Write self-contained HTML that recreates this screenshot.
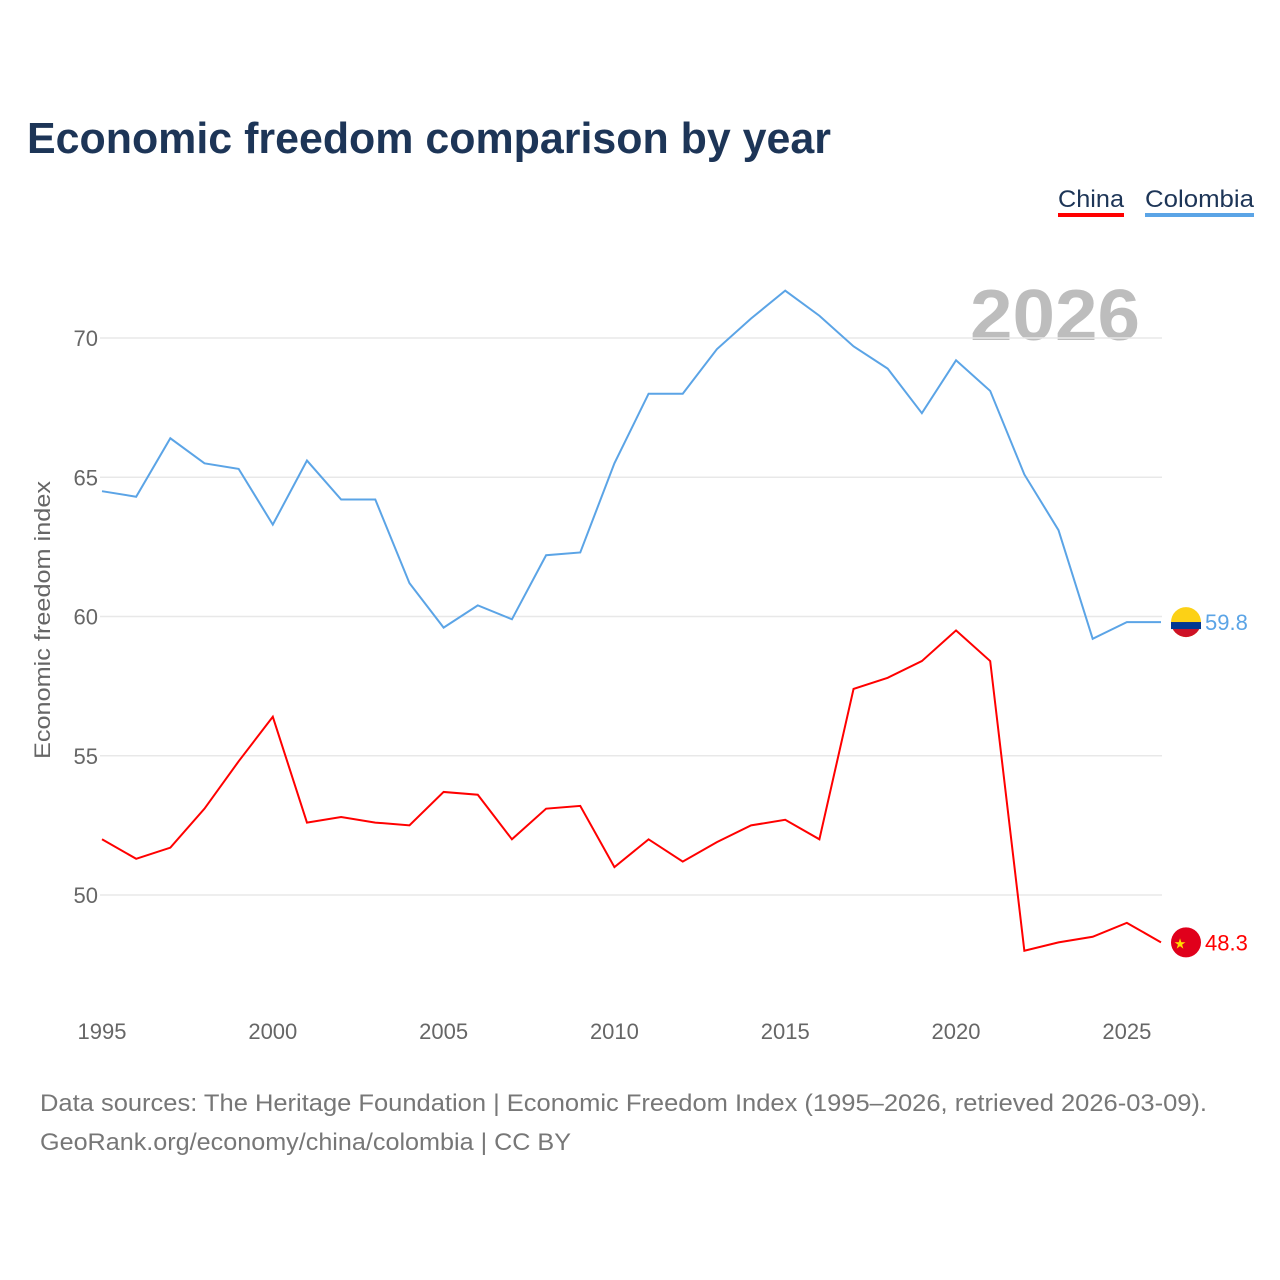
<!DOCTYPE html>
<html><head><meta charset="utf-8">
<style>
body{margin:0;background:#fff;font-family:"Liberation Sans",sans-serif;}
#wrap{position:relative;width:1280px;height:1280px;overflow:hidden;}
</style></head>
<body>
<div id="wrap">
<svg id="chart" width="1280" height="1280">
  <text x="27" y="153" font-size="44" font-weight="bold" fill="#1d3557" textLength="804" lengthAdjust="spacingAndGlyphs">Economic freedom comparison by year</text>
  <g>
    <text x="1058" y="207" font-size="24" fill="#1d3557" textLength="66" lengthAdjust="spacingAndGlyphs">China</text>
    <rect x="1058" y="213" width="66" height="4" fill="#ff0000"/>
    <text x="1145" y="207" font-size="24" fill="#1d3557" textLength="109" lengthAdjust="spacingAndGlyphs">Colombia</text>
    <rect x="1145" y="213" width="109" height="4" fill="#5ba4e6"/>
  </g>
  <text x="1140" y="340" font-size="72" font-weight="bold" fill="#bdbdbd" text-anchor="end" textLength="170" lengthAdjust="spacingAndGlyphs">2026</text>
  <text transform="translate(50,620) rotate(-90)" font-size="22" fill="#666" text-anchor="middle" textLength="278" lengthAdjust="spacingAndGlyphs">Economic freedom index</text>
  <g id="grid"></g><g id="lines"></g><g id="labels"></g>
  <text x="40" y="1111" font-size="24" fill="#777" textLength="1167" lengthAdjust="spacingAndGlyphs">Data sources: The Heritage Foundation | Economic Freedom Index (1995–2026, retrieved 2026-03-09).</text>
  <text x="40" y="1150" font-size="24" fill="#777" textLength="531" lengthAdjust="spacingAndGlyphs">GeoRank.org/economy/china/colombia | CC BY</text>
</svg>
</div>
<script>
const years=[1995,1996,1997,1998,1999,2000,2001,2002,2003,2004,2005,2006,2007,2008,2009,2010,2011,2012,2013,2014,2015,2016,2017,2018,2019,2020,2021,2022,2023,2024,2025,2026];
const colombia=[64.5,64.3,66.4,65.5,65.3,63.3,65.6,64.2,64.2,61.2,59.6,60.4,59.9,62.2,62.3,65.5,68.0,68.0,69.6,70.7,71.7,70.8,69.7,68.9,67.3,69.2,68.1,65.1,63.1,59.2,59.8,59.8];
const china=[52.0,51.3,51.7,53.1,54.8,56.4,52.6,52.8,52.6,52.5,53.7,53.6,52.0,53.1,53.2,51.0,52.0,51.2,51.9,52.5,52.7,52.0,57.4,57.8,58.4,59.5,58.4,48.0,48.3,48.5,49.0,48.3];
const yTicks=[50,55,60,65,70];
const xTicks=[1995,2000,2005,2010,2015,2020,2025];
const NS="http://www.w3.org/2000/svg";
const x=v=>102+(v-1995)*(1161-102)/31;
const y=v=>338+(70-v)*27.85;
function mk(tag,attrs,parent){const e=document.createElementNS(NS,tag);for(const k in attrs)e.setAttribute(k,attrs[k]);parent.appendChild(e);return e;}
const grid=document.getElementById('grid'),lines=document.getElementById('lines'),labels=document.getElementById('labels');
yTicks.forEach(t=>{
  const l=mk('line',{x1:100,x2:1162,y1:y(t),y2:y(t),stroke:'#e8e8e8','stroke-width':1.5},grid);
  
  
  const tx=mk('text',{x:98,y:y(t)+8,'font-size':22,fill:'#666','text-anchor':'end'},grid);
  tx.textContent=t;
  
  
});
xTicks.forEach(t=>{
  const tx=mk('text',{x:x(t),y:1039,'font-size':22,fill:'#666','text-anchor':'middle'},grid);
  tx.textContent=t;
  
  
});
function series(vals,color,name){
  const p=mk('polyline',{points:vals.map((v,i)=>x(years[i])+','+y(v)).join(' '),fill:'none',stroke:color,'stroke-width':2},lines);
  
  
  const last=vals[vals.length-1];
  const c=mk('circle',{cx:1186,cy:y(last),r:15,fill:name==='china'?'#e0001b':'#fcd116'},labels);
  
  
  if(name==='colombia'){
    mk('path',{d:`M1171 ${y(last)} h30 a15 15 0 0 1 -30 0z`,fill:'#ce1126'},labels);
    mk('rect',{x:1171,y:y(last),width:30,height:7,fill:'#003893'},labels);
  } else {
    const s=mk('text',{x:1180,y:y(last)+6,'font-size':14,fill:'#ffde00','text-anchor':'middle'},labels);
    s.textContent='★';
  }
  const t=mk('text',{x:1205,y:y(last)+8,'font-size':22,fill:color},labels);
  t.textContent=last.toFixed(1);
  
  
}
series(colombia,'#5ba4e6','colombia');
series(china,'#ff0000','china');
</script>
</body></html>
